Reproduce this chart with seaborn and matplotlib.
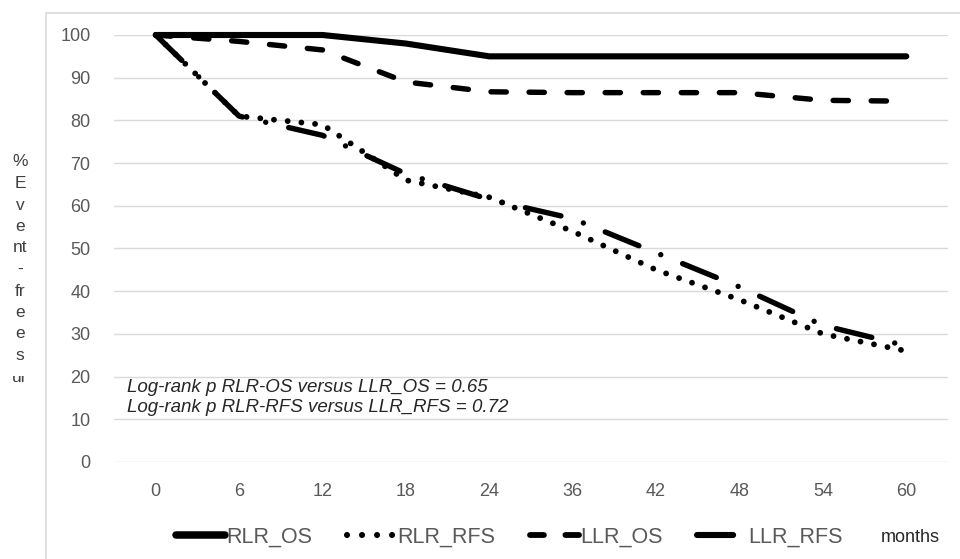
import matplotlib
matplotlib.use("Agg")
import matplotlib.pyplot as plt
import seaborn as sns
import numpy as np
from matplotlib.lines import Line2D
from matplotlib.patches import Rectangle

months = ['0', '6', '12', '18', '24', '36', '42', '48', '54', '60']
series_names = ['RLR_OS', 'RLR_RFS', 'LLR_OS', 'LLR_RFS']
rlr_os = [100, 100, 100, 98, 95, 95, 95, 95, 95, 95]
rlr_rfs = [100, 81, 79, 66, 62, 54, 45, 38, 30, 26]
llr_os = [100, 98.5, 96.5, 89, 86.7, 86.5, 86.5, 86.5, 84.7, 84.5]
llr_rfs = [100, 81, 76.5, 67.5, 61.5, 57, 49, 41, 32, 27.2]
y_ticks = [0, 10, 20, 30, 40, 50, 60, 70, 80, 90, 100]
annot_lines = ['Log-rank p RLR-OS versus LLR_OS = 0.65',
               'Log-rank p RLR-RFS versus LLR_RFS = 0.72']
ylabel_chunks = ['%', 'E', 'v', 'e', 'nt', '-', 'fr', 'e', 'e', 's', 'ur']
x_title = 'months'

sns.set_theme(style='white')
plt.rcParams['font.family'] = ['Liberation Sans', 'DejaVu Sans']
plt.rcParams['lines.scale_dashes'] = False

W, H = 960, 559
fig = plt.figure(figsize=(W / 100, H / 100), dpi=100)
ax = fig.add_axes([114 / W, 1 - 462 / H, (948 - 114) / W, (462 - 35) / H])

styles = {
    'RLR_OS': dict(linewidth=4.4, linestyle='-'),
    'RLR_RFS': dict(linewidth=4.2, linestyle=(0, (0.01, 9.9))),
    'LLR_OS': dict(linewidth=3.9, linestyle=(0, (11.0, 16.4))),
    'LLR_RFS': dict(linewidth=3.9, linestyle=(0, (26.2, 17.0, 0.01, 17.0))),
}
data = {'RLR_OS': rlr_os, 'RLR_RFS': rlr_rfs, 'LLR_OS': llr_os, 'LLR_RFS': llr_rfs}
for name in ['LLR_OS', 'LLR_RFS', 'RLR_RFS', 'RLR_OS']:
    sns.lineplot(x=months, y=data[name], ax=ax, color='black', sort=False,
                 solid_capstyle='round', dash_capstyle='round', clip_on=False,
                 **styles[name])

ax.set_xlim(-0.5, len(months) - 0.5)
ax.set_ylim(0, 100)
ax.set_yticks(y_ticks)
ax.grid(axis='y', color='#d9d9d9', lw=1.0)
ax.grid(axis='x', visible=False)
ax.set_axisbelow(True)
for s in ax.spines.values():
    s.set_visible(False)
ax.tick_params(axis='both', length=0, labelsize=13, colors='#595959')
ax.tick_params(axis='y', pad=17)
ax.tick_params(axis='x', pad=15)
ax.set_xlabel('')
ax.set_ylabel('')
if ax.get_legend():
    ax.get_legend().remove()

# annotations
ax.text(127 / W, 1 - 387 / H, annot_lines[0], transform=fig.transFigure,
        fontsize=13.5, style='italic', color='#262626', va='center', ha='left')
ax.text(127 / W, 1 - 408 / H, annot_lines[1], transform=fig.transFigure,
        fontsize=13.5, style='italic', color='#262626', va='center', ha='left')

# outer frame
fig.add_artist(Rectangle((46 / W, -0.1), 1.2, 1 - 13 / H + 0.1, transform=fig.transFigure,
                         fill=False, edgecolor='#d9d9d9', lw=1.2, clip_on=False))

# y label (stacked; last chunk partly hidden)
clip = Rectangle((0, 1 - 395 / H), 46 / W, (395 - 376) / H, transform=fig.transFigure,
                 facecolor='none', edgecolor='none')
fig.add_artist(clip)
for i, ch in enumerate(ylabel_chunks):
    t = fig.text(20 / W, 1 - (162 + 21.5 * i) / H, ch, fontsize=12.5, color='#404040',
                 ha='center', va='center')
    if i == len(ylabel_chunks) - 1:
        t.set_clip_on(True)
        t.set_clip_path(clip)

# legend
handles = [
    Line2D([], [], color='black', lw=5.4, solid_capstyle='round'),
    Line2D([], [], color='black', lw=4.4, linestyle=(0, (0.01, 10.8)), dash_capstyle='round'),
    Line2D([], [], color='black', lw=4.2, linestyle=(2, (12.0, 15.5)), dash_capstyle='round'),
    Line2D([], [], color='black', lw=4.4, linestyle=(0, (26, 30)), dash_capstyle='round'),
]
leg = fig.legend(handles, series_names, loc='center', bbox_to_anchor=(509 / W, 1 - 537 / H),
                 ncol=4, frameon=False, fontsize=15.5, handlelength=2.3,
                 handletextpad=0.05, columnspacing=1.6, labelcolor='#595959')
fig.text(910 / W, 1 - 537 / H, x_title, fontsize=13, color='#262626', ha='center', va='center')

fig.savefig('out.png', dpi=100)
